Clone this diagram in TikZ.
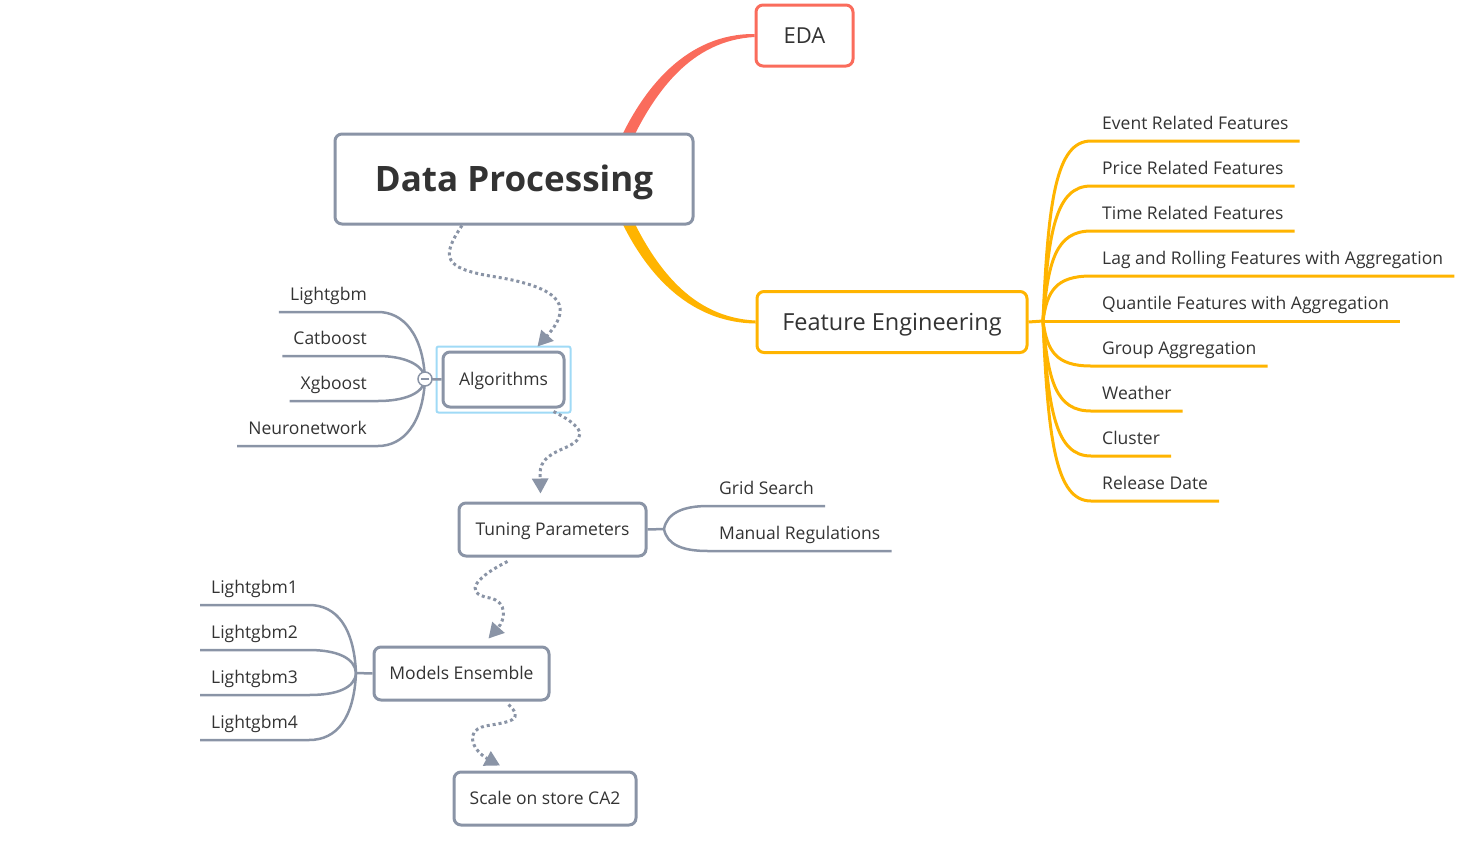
\documentclass[tikz,border=0pt]{standalone}
\usepackage{fontspec}
\setmainfont{Open Sans}
\usetikzlibrary{arrows.meta,backgrounds}
\definecolor{linegray}{RGB}{138,148,166}
\definecolor{txtgray}{RGB}{51,51,51}
\definecolor{fecolor}{RGB}{255,180,0}
\definecolor{edacolor}{RGB}{250,108,92}
\definecolor{selblue}{RGB}{160,218,246}
\tikzset{
  topic/.style={draw=linegray, line width=3pt, rounded corners=7pt, fill=white, text=txtgray,
    font=\fontsize{17.5}{22}\selectfont, inner sep=0pt, text height=12.5pt, text depth=0pt},
  leaf/.style={inner xsep=11pt, inner ysep=6.5pt, text depth=5pt, text=txtgray,
    font=\fontsize{17.5}{22}\selectfont},
  gline/.style={draw=linegray, line width=2.5pt},
  oline/.style={draw=fecolor, line width=3pt},
  flow/.style={draw=linegray, line width=3pt, dash pattern=on 3pt off 3pt,
    -{Triangle[width=16pt,length=15pt]}},
}
\begin{document}
\begin{tikzpicture}[x=1pt, y=-1pt]
\useasboundingbox (0,0) rectangle (1472,860);

% main topics
\node[topic, minimum width=358pt, minimum height=90pt, text height=25pt, font=\bfseries\fontsize{35}{40}\selectfont] (dp) at (514,179) {Data Processing};
\node[topic, draw=edacolor, minimum width=97pt, minimum height=61pt, text height=15.7pt, font=\fontsize{22}{26}\selectfont] (eda) at (804.5,35.5) {EDA};
\node[topic, draw=fecolor, minimum width=270pt, minimum height=61pt, text height=16.8pt, font=\fontsize{23.5}{28}\selectfont] (fe) at (892,322) {Feature Engineering};
\node[topic, minimum width=121pt, minimum height=55pt] (algo) at (503.5,379.5) {Algorithms};
\node[topic, minimum width=187pt, minimum height=53pt] (tune) at (552.5,529.5) {Tuning Parameters};
\node[topic, minimum width=175pt, minimum height=53pt] (ens) at (461.5,673.5) {Models Ensemble};
\node[topic, minimum width=182pt, minimum height=53pt] (scale) at (545,798.5) {Scale on store CA2};

% selection frame
\draw[selblue, line width=2pt, rounded corners=2pt] ([shift={(-5,4)}]algo.south west) rectangle ([shift={(5,-4)}]algo.north east);

% tapered branches
\begin{pgfonlayer}{background}
\fill[edacolor] (614,153) .. controls (642,86) and (688,33.5) .. ([yshift=1.5pt]eda.west)
  -- ([yshift=-1.5pt]eda.west) .. controls (692,40.5) and (654,90) .. (626,153) -- cycle;
\fill[fecolor] (614,205) .. controls (642,272) and (688,322.5) .. ([yshift=-1.5pt]fe.west)
  -- ([yshift=1.5pt]fe.west) .. controls (692,317.5) and (654,268) .. (626,205) -- cycle;
\end{pgfonlayer}

% feature engineering
\coordinate (fej) at (1043,321);
\node[leaf, anchor=south west] (fe1) at (1091,141) {Event Related Features};
\node[leaf, anchor=south west] (fe2) at (1091,186) {Price Related Features};
\node[leaf, anchor=south west] (fe3) at (1091,231) {Time Related Features};
\node[leaf, anchor=south west] (fe4) at (1091,276) {Lag and Rolling Features with Aggregation};
\node[leaf, anchor=south west] (fe5) at (1091,321) {Quantile Features with Aggregation};
\node[leaf, anchor=south west] (fe6) at (1091,366) {Group Aggregation};
\node[leaf, anchor=south west] (fe7) at (1091,411) {Weather};
\node[leaf, anchor=south west] (fe8) at (1091,456) {Cluster};
\node[leaf, anchor=south west] (fe9) at (1091,501) {Release Date};
\draw[oline] (fe.east) -- (fej);
\draw[oline] (fej) .. controls +(5,-120) and +(-35,0) .. (fe1.south west) -- (fe1.south east);
\draw[oline] (fej) .. controls +(5,-90) and +(-35,0) .. (fe2.south west) -- (fe2.south east);
\draw[oline] (fej) .. controls +(5,-60) and +(-35,0) .. (fe3.south west) -- (fe3.south east);
\draw[oline] (fej) .. controls +(4,-30) and +(-35,0) .. (fe4.south west) -- (fe4.south east);
\draw[oline] (fej) -- (fe5.south west) -- (fe5.south east);
\draw[oline] (fej) .. controls +(4,30) and +(-35,0) .. (fe6.south west) -- (fe6.south east);
\draw[oline] (fej) .. controls +(5,60) and +(-35,0) .. (fe7.south west) -- (fe7.south east);
\draw[oline] (fej) .. controls +(5,90) and +(-35,0) .. (fe8.south west) -- (fe8.south east);
\draw[oline] (fej) .. controls +(5,120) and +(-35,0) .. (fe9.south west) -- (fe9.south east);

% algorithms
\coordinate (algj) at (425,379);
\node[leaf, anchor=south east] (al1) at (378,312) {Lightgbm};
\node[leaf, anchor=south east] (al2) at (378,356) {Catboost};
\node[leaf, anchor=south east] (al3) at (378,401) {Xgboost};
\node[leaf, anchor=south east] (al4) at (378,446) {Neuronetwork};
\draw[gline] (algj) .. controls +(-2,-45) and +(25,0) .. (al1.south east) -- (al1.south west);
\draw[gline] (algj) .. controls +(-1,-15) and +(25,0) .. (al2.south east) -- (al2.south west);
\draw[gline] (algj) .. controls +(-1,15) and +(25,0) .. (al3.south east) -- (al3.south west);
\draw[gline] (algj) .. controls +(-2,45) and +(25,0) .. (al4.south east) -- (al4.south west);
\draw[gline] (algj) -- (algo.west);
\draw[linegray, line width=1.5pt, fill=white] (algj) circle (7pt);
\draw[linegray, line width=1.5pt] ([xshift=-4pt]algj) -- ([xshift=4pt]algj);

% tuning
\coordinate (tunj) at (664,529);
\node[leaf, anchor=south west] (tu1) at (708,506) {Grid Search};
\node[leaf, anchor=south west] (tu2) at (708,551) {Manual Regulations};
\draw[gline] (tune.east) -- (tunj);
\draw[gline] (tunj) .. controls +(3,-16) and +(-25,0) .. (tu1.south west) -- (tu1.south east);
\draw[gline] (tunj) .. controls +(3,16) and +(-25,0) .. (tu2.south west) -- (tu2.south east);

% ensemble
\coordinate (ensj) at (356,673);
\node[leaf, anchor=south west] (en1) at (200,605) {Lightgbm1};
\node[leaf, anchor=south west] (en2) at (200,650) {Lightgbm2};
\node[leaf, anchor=south west] (en3) at (200,695) {Lightgbm3};
\node[leaf, anchor=south west] (en4) at (200,740) {Lightgbm4};
\draw[gline] (ens.west) -- (ensj);
\draw[gline] (ensj) .. controls +(-2,-45) and +(28,0) .. (en1.south east) -- (en1.south west);
\draw[gline] (ensj) .. controls +(-1,-15) and +(28,0) .. (en2.south east) -- (en2.south west);
\draw[gline] (ensj) .. controls +(-1,15) and +(28,0) .. (en3.south east) -- (en3.south west);
\draw[gline] (ensj) .. controls +(-2,45) and +(28,0) .. (en4.south east) -- (en4.south west);

% flow
\draw[flow] ([xshift=-52pt]dp.south) .. controls (440,258) and (445,268) .. (490,276)
  .. controls (570,288) and (570,310) .. ([xshift=34pt,yshift=4pt]algo.north);
\draw[flow] ([xshift=50pt,yshift=-3pt]algo.south) .. controls (590,430) and (585,440) .. (560,450)
  .. controls (538,460) and (540,470) .. ([xshift=-12pt,yshift=8pt]tune.north);
\draw[flow] ([xshift=-45pt,yshift=-4pt]tune.south) .. controls (480,575) and (460,593) .. (490,598)
  .. controls (508,602) and (505,620) .. ([xshift=27pt,yshift=7pt]ens.north);
\draw[flow] ([xshift=47pt,yshift=-3pt]ens.south) .. controls (525,720) and (510,722) .. (485,726)
  .. controls (462,732) and (475,752) .. ([xshift=-45pt,yshift=5pt]scale.north);
\end{tikzpicture}
\end{document}
